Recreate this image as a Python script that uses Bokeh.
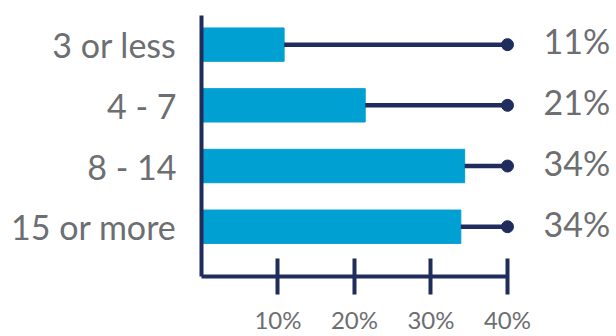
from bokeh.plotting import figure
from bokeh.models import ColumnDataSource, FixedTicker, LinearAxis, Range1d
from bokeh.core.properties import value
from bokeh.embed import file_html
from bokeh.resources import INLINE

categories = ["3 or less", "4 - 7", "8 - 14", "15 or more"]
values = [10.8, 21.4, 34.4, 33.9]
value_labels = ["11%", "21%", "34%", "34%"]
x_ticks = [10, 20, 30, 40]
x_tick_labels = ["10%", "20%", "30%", "40%"]
target = 40

BAR = "#00A0D2"
NAVY = "#1F2D5C"
GRAY = "#6D6E71"
FONT = "Lato"

ypos = [len(categories) - 1 - i for i in range(len(categories))]
src = ColumnDataSource(dict(
    y=ypos, v=values, t=[target] * len(values), lab=value_labels,
    ly=[y + 0.06 for y in ypos],
))

p = figure(width=616, height=336, output_backend="svg", toolbar_location=None,
           x_range=Range1d(0, 54.25), y_range=Range1d(-0.82, 3.48),
           x_axis_type=None, y_axis_type=None,
           min_border_left=201, min_border_right=0, min_border_top=15,
           min_border_bottom=53)
p.outline_line_color = None
p.grid.visible = False
p.background_fill_color = "white"

p.hbar(y="y", right="v", left=0, height=0.55, source=src, color=BAR)
p.segment(x0="v", y0="y", x1="t", y1="y", source=src, line_color=NAVY, line_width=4.5)
p.scatter(x="t", y="y", source=src, size=12, color=NAVY)
p.text(x=44.7, y="ly", text="lab", source=src, text_font=value(FONT),
       text_font_size="34px", text_color=GRAY, text_baseline="middle", text_align="left")

xa = LinearAxis(ticker=FixedTicker(ticks=x_ticks), bounds=(0, 40))
xa.major_label_overrides = {t: l for t, l in zip(x_ticks, x_tick_labels)}
xa.axis_line_color = NAVY
xa.axis_line_width = 4
xa.major_tick_line_color = NAVY
xa.major_tick_line_width = 4
xa.major_tick_in = 18
xa.major_tick_out = 18
xa.minor_tick_line_color = None
xa.major_label_text_font = FONT
xa.major_label_text_font_size = "24px"
xa.major_label_text_color = GRAY
xa.major_label_standoff = 10
p.add_layout(xa, "below")

ya = LinearAxis(ticker=FixedTicker(ticks=ypos))
ya.major_label_overrides = {y: c for y, c in zip(ypos, categories)}
ya.axis_line_color = NAVY
ya.axis_line_width = 4
ya.major_tick_line_color = None
ya.major_tick_in = 0
ya.major_tick_out = 0
ya.minor_tick_line_color = None
ya.major_label_text_font = FONT
ya.major_label_text_font_size = "34px"
ya.major_label_text_color = GRAY
ya.major_label_standoff = 25
p.add_layout(ya, "left")

open("out.html", "w").write(file_html(p, INLINE))
